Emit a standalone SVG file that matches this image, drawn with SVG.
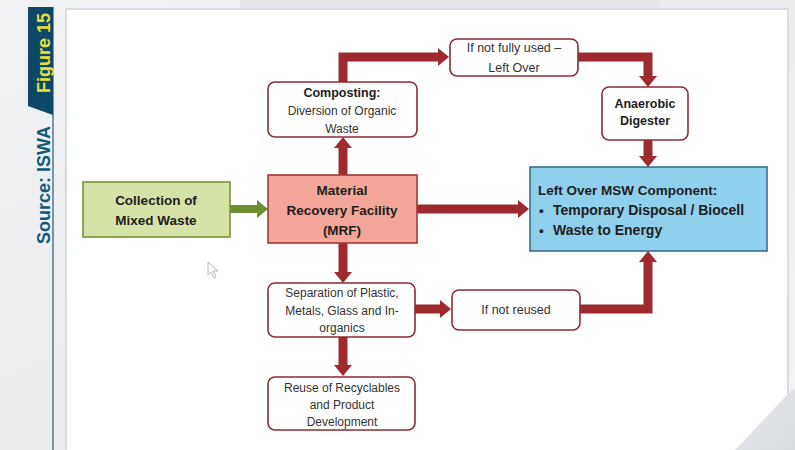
<svg xmlns="http://www.w3.org/2000/svg" width="795" height="450" viewBox="0 0 795 450">
  <defs>
    <linearGradient id="pageBg" x1="0" y1="0" x2="1" y2="1">
      <stop offset="0" stop-color="#f1f2f3"/>
      <stop offset="0.5" stop-color="#e9ebec"/>
      <stop offset="1" stop-color="#f3f4f5"/>
    </linearGradient>
    <linearGradient id="cornerBg" x1="0" y1="0" x2="1" y2="1">
      <stop offset="0" stop-color="#e6e8ea"/>
      <stop offset="1" stop-color="#d9dcdf"/>
    </linearGradient>
    <marker id="headRed" viewBox="0 0 11 18" markerWidth="11" markerHeight="18" refX="0" refY="9" orient="auto" markerUnits="userSpaceOnUse">
      <path d="M0,0 L11,9 L0,18 z" fill="#9c2a2f"/>
    </marker>
    <marker id="headGreen" viewBox="0 0 11 18" markerWidth="11" markerHeight="18" refX="0" refY="9" orient="auto" markerUnits="userSpaceOnUse">
      <path d="M0,0 L11,9 L0,18 z" fill="#6e8f34"/>
    </marker>
    <style>
      .plain { font-family: "Liberation Sans", Arial, sans-serif; font-size: 12px; fill: #333333; text-anchor: middle; }
      .bold { font-family: "Liberation Sans", Arial, sans-serif; font-size: 13.5px; font-weight: bold; fill: #1e1e1e; text-anchor: middle; }
      .boldL { font-family: "Liberation Sans", Arial, sans-serif; font-size: 13.5px; font-weight: bold; fill: #1e1e1e; }
      .wbox { fill: #ffffff; stroke: #8e2a33; stroke-width: 1.6; }
      .link { fill: none; stroke: #9c2a2f; stroke-width: 9; stroke-linejoin: miter; marker-end: url(#headRed); }
      .side { font-family: "Liberation Sans", Arial, sans-serif; font-size: 18px; font-weight: bold; text-anchor: middle; }
    </style>
  </defs>

  <!-- page background -->
  <rect x="0" y="0" width="795" height="450" fill="url(#pageBg)"/>
  <rect x="240" y="0" width="420" height="9" fill="#e4e6e8"/>

  <!-- white content panel -->
  <rect x="66" y="9" width="722" height="460" fill="#ffffff" stroke="#d5dce3" stroke-width="2"/>
  <polygon points="788,394 795,388 795,450 735,450" fill="url(#cornerBg)"/>

  <!-- side tag and source -->
  <line x1="53" y1="7" x2="53" y2="450" stroke="#5a7f98" stroke-width="1.6"/>
  <polygon points="28,7 53,7 53,115 28,106" fill="#0c4966"/>
  <text class="side" transform="translate(50,53) rotate(-90)" fill="#eadf3a">Figure 15</text>
  <text class="side" transform="translate(50,185) rotate(-90)" fill="#0f5a79">Source: ISWA</text>

  <!-- connectors -->
  <g id="connectors">
    <path d="M230,209 H257" fill="none" stroke="#6e8f34" stroke-width="8" marker-end="url(#headGreen)"/>
    <path class="link" d="M417,209 H518"/>
    <path class="link" d="M343,175 V148"/>
    <path class="link" d="M343,82 V57 H438"/>
    <path class="link" d="M578,57 H648 V76"/>
    <path class="link" d="M648,140 V156"/>
    <path class="link" d="M343,243 V272"/>
    <path class="link" d="M343,337 V365"/>
    <path class="link" d="M415,309 H440"/>
    <path class="link" d="M580,309 H648 V262"/>
  </g>

  <!-- nodes -->
  <g id="collection">
    <rect x="83" y="182" width="147" height="55" fill="#d6e3a6" stroke="#76913c" stroke-width="1.6"/>
    <text class="bold" x="156" y="205">Collection of</text>
    <text class="bold" x="156" y="225">Mixed Waste</text>
  </g>

  <g id="mrf">
    <rect x="268" y="175" width="149" height="68" fill="#f4a698" stroke="#a5363a" stroke-width="1.6"/>
    <text class="bold" x="342" y="195">Material</text>
    <text class="bold" x="342" y="215">Recovery Facility</text>
    <text class="bold" x="342" y="235">(MRF)</text>
  </g>

  <g id="leftover">
    <rect x="530" y="167" width="237" height="84" fill="#8fd0ec" stroke="#3b6f8e" stroke-width="1.6"/>
    <text class="boldL" x="538" y="195">Left Over MSW Component:</text>
    <text class="boldL" x="539" y="215">•</text>
    <text class="boldL" x="553" y="215" style="font-size:14px">Temporary Disposal / Biocell</text>
    <text class="boldL" x="539" y="235">•</text>
    <text class="boldL" x="553" y="235" style="font-size:14px">Waste to Energy</text>
  </g>

  <g id="composting">
    <rect class="wbox" x="268" y="82" width="149" height="55" rx="7"/>
    <text class="bold" x="342" y="97" style="font-size:12.5px">Composting:</text>
    <text class="plain" x="342" y="115">Diversion of Organic</text>
    <text class="plain" x="342" y="133">Waste</text>
  </g>

  <g id="leftover-top">
    <rect class="wbox" x="450" y="39" width="128" height="37" rx="7"/>
    <text class="plain" x="514" y="52" style="font-size:12.5px">If not fully used –</text>
    <text class="plain" x="514" y="72" style="font-size:12.5px">Left Over</text>
  </g>

  <g id="anaerobic">
    <rect class="wbox" x="602" y="87" width="86" height="53" rx="7"/>
    <text class="bold" x="645" y="108" style="font-size:12.5px">Anaerobic</text>
    <text class="bold" x="645" y="125" style="font-size:12.5px">Digester</text>
  </g>

  <g id="separation">
    <rect class="wbox" x="268" y="283" width="147" height="54" rx="7"/>
    <text class="plain" x="342" y="297">Separation of Plastic,</text>
    <text class="plain" x="342" y="315">Metals, Glass and In-</text>
    <text class="plain" x="342" y="332">organics</text>
  </g>

  <g id="not-reused">
    <rect class="wbox" x="452" y="290" width="128" height="40" rx="7"/>
    <text class="plain" x="516" y="314" style="font-size:12.5px">If not reused</text>
  </g>

  <g id="reuse">
    <rect class="wbox" x="268" y="377" width="147" height="53" rx="7"/>
    <text class="plain" x="342" y="392">Reuse of Recyclables</text>
    <text class="plain" x="342" y="409">and Product</text>
    <text class="plain" x="342" y="426">Development</text>
  </g>

  <!-- mouse pointer -->
  <path d="M208,262 V275 L211,272 L214,278 L216,277 L213,271 L218,271 Z" fill="#ffffff" stroke="#b8b8b8" stroke-width="1"/>
</svg>
